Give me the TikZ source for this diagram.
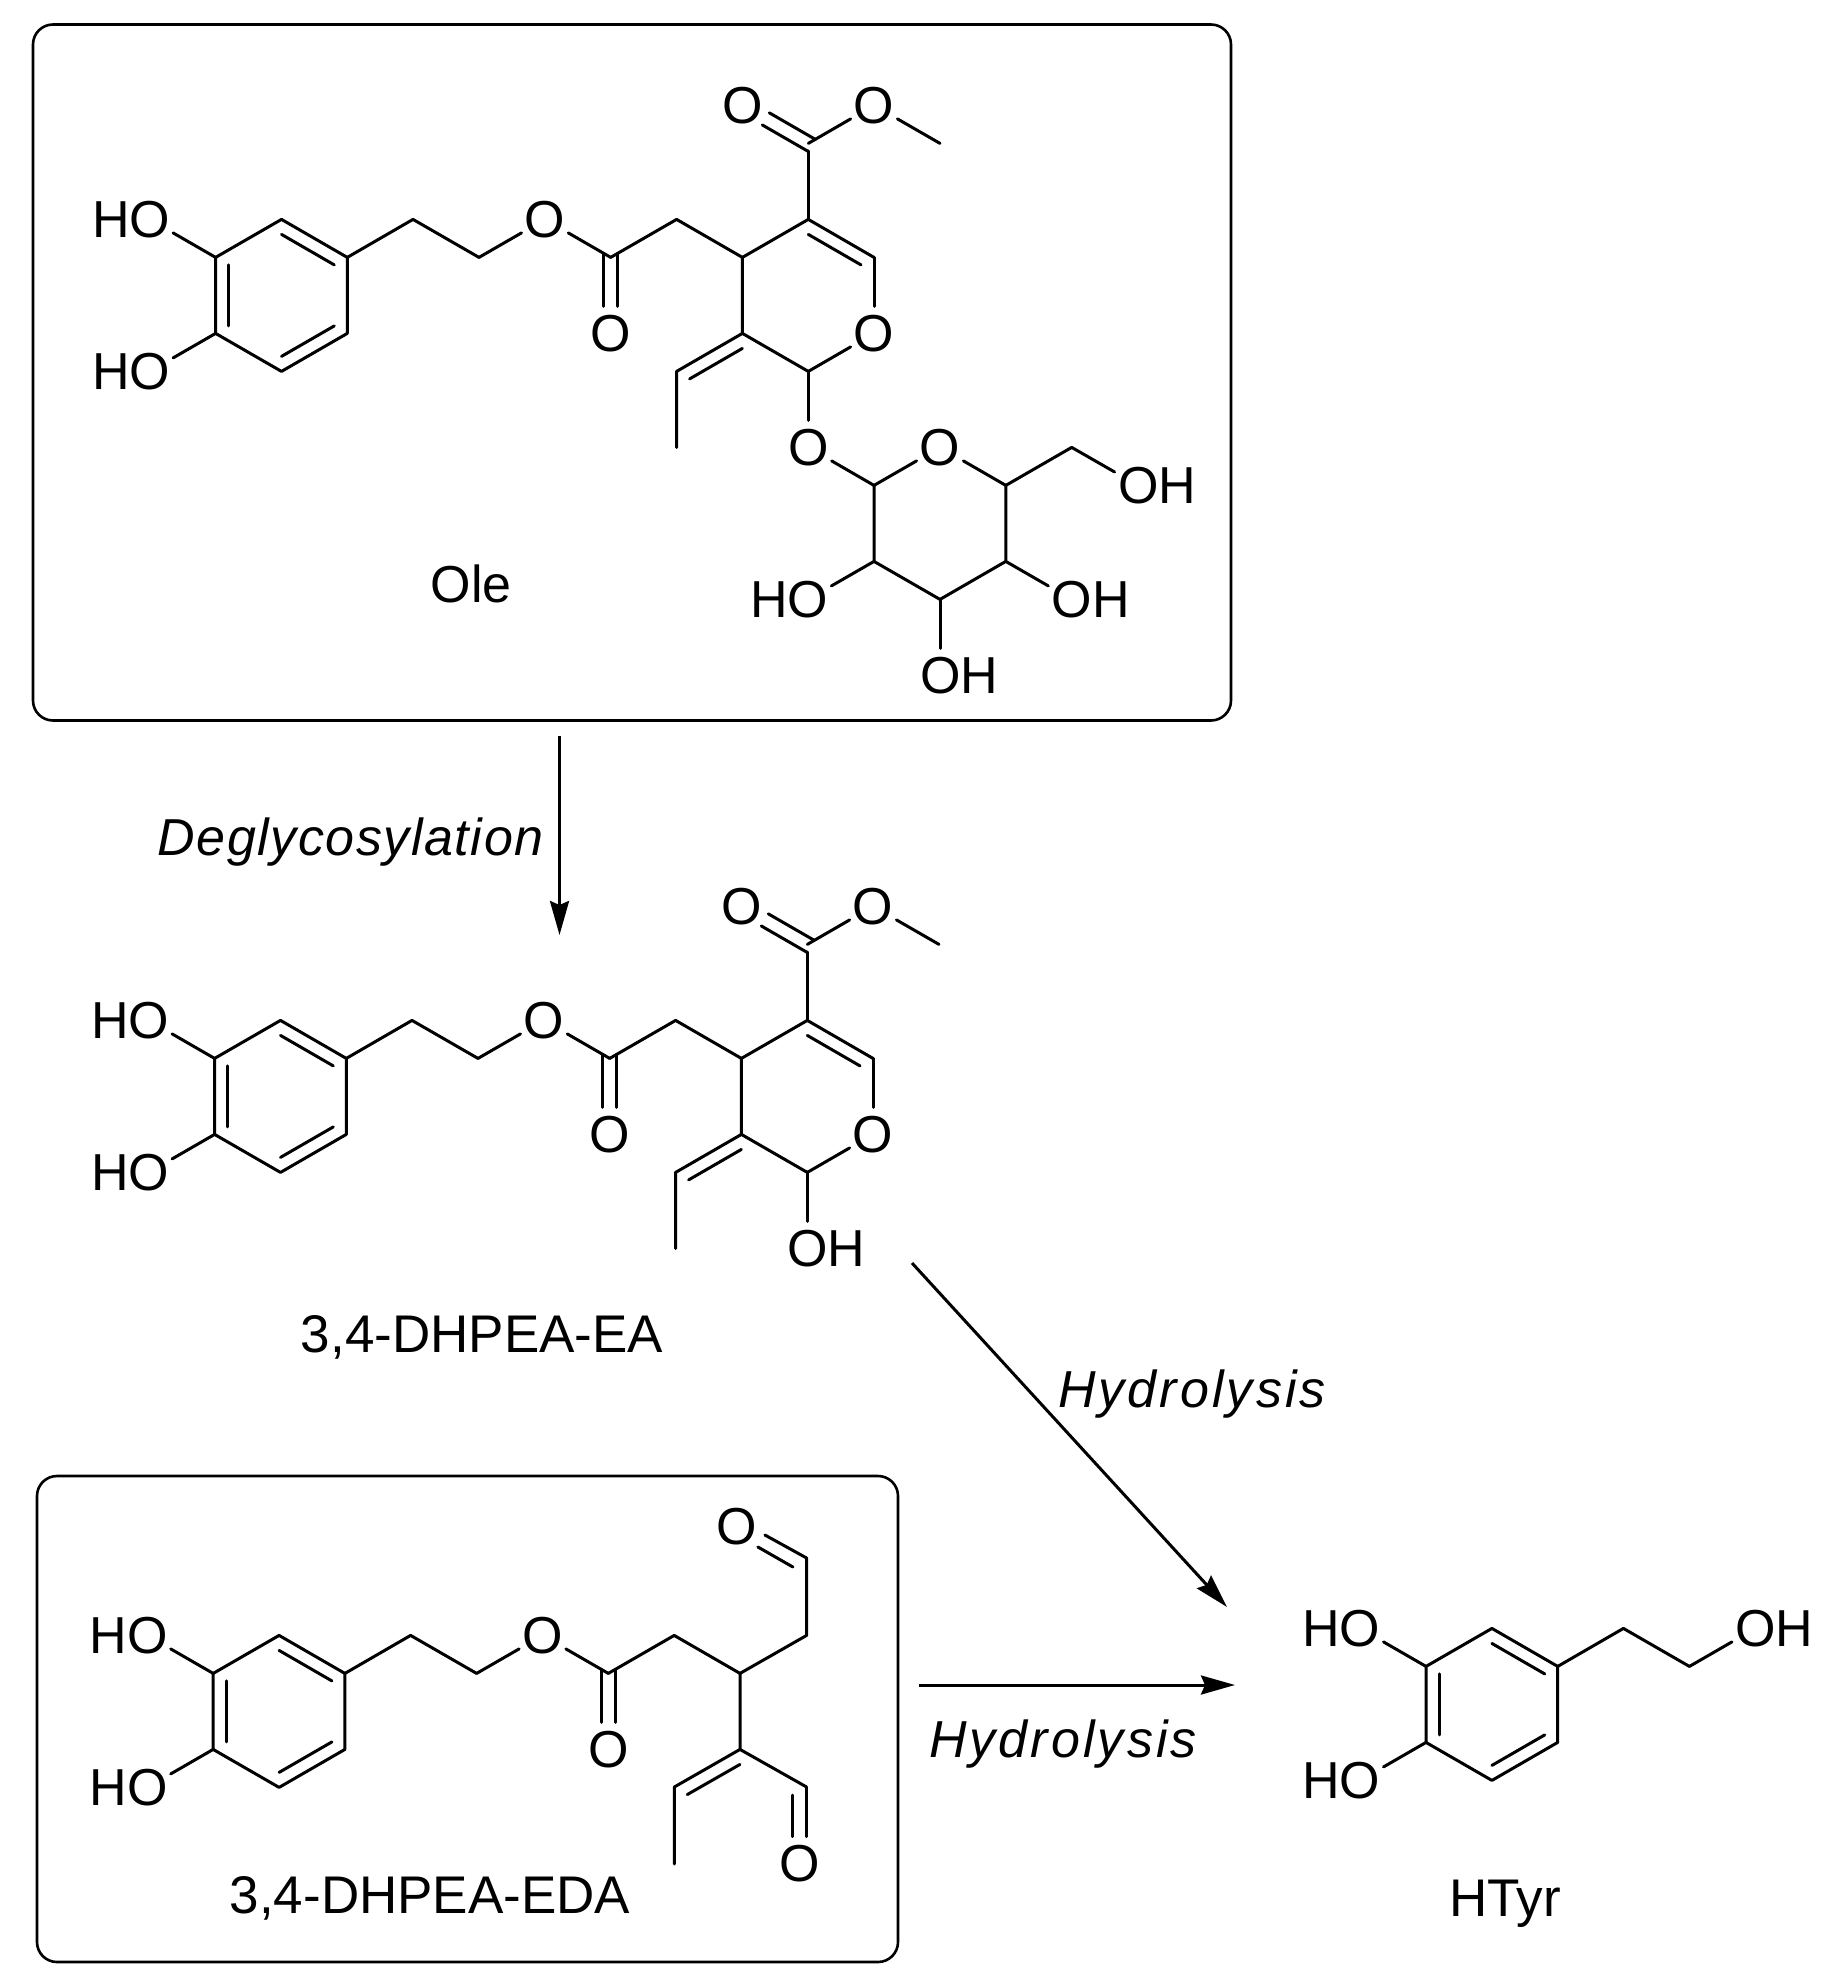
\documentclass[tikz,border=0pt]{standalone}
\usepackage{fontspec}
\setmainfont{Liberation Sans}
\usetikzlibrary{calc,arrows.meta}
\tikzset{
  x=1pt,y=-1pt,
  bond/.style={line width=3pt,line cap=round,line join=round,black},
  toO/.style={bond,shorten >=27pt},
  atomtxt/.style={inner sep=0pt,font=\fontsize{52}{52}\selectfont},
  lbl/.style={inner sep=0pt,font=\fontsize{53}{53}\selectfont},
  itl/.style={inner sep=0pt,font=\fontsize{52}{52}\selectfont\itshape\addfontfeature{LetterSpace=#1}},
  frame/.style={line width=2.6pt,rounded corners=20pt,black},
  rxn/.style={line width=3pt,black,-{Stealth[length=34pt,width=19pt,inset=4pt]}}
}
% double bond partner on the page-left of a->b, set in and offset
\newcommand\ib[2]{\draw[bond] ($(#1)!7.5pt!(#2)!13pt!90:(#2)$) -- ($(#2)!7.5pt!(#1)!13pt!-90:(#1)$);}
% carbonyl C=O, two lines either side of the axis, stopping short of O
\newcommand\co[2]{%
  \draw[bond] ($(#1)!-4pt!(#2)!7pt!90:(#2)$) -- ($(#2)!27pt!(#1)!7pt!-90:(#1)$);
  \draw[bond] ($(#1)!-4pt!(#2)!7pt!-90:(#2)$) -- ($(#2)!27pt!(#1)!7pt!90:(#1)$);}
% O centre sits on the lattice point; H to the left or right
\newcommand\HO[2]{\coordinate (#1) at (#2); \node[atomtxt,anchor=east,xshift=20.5pt] (#1l) at (#1) {HO};}
\newcommand\OH[2]{\coordinate (#1) at (#2); \node[atomtxt,anchor=west,xshift=-20pt] (#1l) at (#1) {OH};}
\newcommand\Ox[2]{\coordinate (#1) at (#2); \node[atomtxt] (#1l) at (#1) {O};}
\newcommand\catechol[1]{%
  \coordinate (#1a) at (281.5,219.4);
  \coordinate (#1b) at (347.3,257.4);
  \coordinate (#1c) at (347.3,333.4);
  \coordinate (#1d) at (281.5,371.4);
  \coordinate (#1e) at (215.6,333.4);
  \coordinate (#1f) at (215.6,257.4);
  \HO{#1h}{149.7,219.4}
  \HO{#1i}{149.7,371.4}
  \draw[bond] (#1a)--(#1b)--(#1c)--(#1d)--(#1e)--(#1f)--cycle;
  \ib{#1b}{#1a}\ib{#1d}{#1c}\ib{#1f}{#1e}
  \draw[toO] (#1f)--(#1h);
  \draw[toO] (#1e)--(#1i);
}
\newcommand\ester[1]{%
  \coordinate (#1p) at (413,219.4);
  \coordinate (#1q) at (479,257.4);
  \Ox{#1r}{544.9,219.4}
  \coordinate (#1s) at (610.7,257.4);
  \Ox{#1t}{610.7,333.4}
  \coordinate (#1u) at (676.6,219.4);
  \coordinate (#1v) at (742.4,257.4);
  \draw[bond] (#1b)--(#1p)--(#1q);
  \draw[toO] (#1q)--(#1r);
  \draw[toO] (#1s)--(#1r);
  \co{#1s}{#1t}
  \draw[bond] (#1s)--(#1u)--(#1v);
}
\newcommand\pyran[1]{%
  \coordinate (#1w) at (808.3,219.4);
  \coordinate (#1x) at (874,257.4);
  \Ox{#1y}{874,333.4}
  \coordinate (#1z) at (808.3,371.4);
  \coordinate (#1C) at (742.4,333.4);
  \coordinate (#1E) at (676.6,371.4);
  \coordinate (#1M) at (676.6,447.4);
  \coordinate (#1K) at (808.3,143.4);
  \coordinate (#1J) at (808.3,151);
  \Ox{#1L}{742.4,105.4}
  \Ox{#1N}{874,105.4}
  \coordinate (#1Q) at (940,143.4);
  \draw[bond] (#1v)--(#1w)--(#1x);
  \ib{#1x}{#1w}
  \draw[toO] (#1x)--(#1y);
  \draw[toO] (#1z)--(#1y);
  \draw[bond] (#1z)--(#1C)--(#1v);
  \draw[bond] (#1C)--(#1E)--(#1M);
  \ib{#1C}{#1E}
  \draw[bond] (#1w)--(#1J);
  \co{#1K}{#1L}
  \draw[toO] (#1K)--(#1N);
  \draw[toO] (#1Q)--(#1N);
}
\begin{document}
\begin{tikzpicture}
\useasboundingbox (0,0) rectangle (1840,1988);
\fill[white] (0,0) rectangle (1840,1988);
% --- Ole ---
\node[frame,draw,minimum width=1198pt,minimum height=696pt,inner sep=0pt] (olebox) at (632,372.5) {};
\begin{scope}
  \catechol{a}\ester{a}\pyran{a}
  \Ox{so}{808.3,447.4}
  \Ox{sr}{940,447.4}
  \coordinate (s1) at (874,485.4);
  \coordinate (s2) at (1005.8,485.4);
  \coordinate (s3) at (1071.7,447.4);
  \OH{s4}{1138,485.4}
  \coordinate (s5) at (1005.8,561.4);
  \coordinate (s6) at (940,599.4);
  \coordinate (s7) at (874,561.4);
  \HO{s8}{808,599.4}
  \OH{s9}{1071.7,599.4}
  \OH{s0}{940,675.4}
  \draw[toO] (az)--(so);
  \draw[toO] (s1)--(so);
  \draw[toO] (s1)--(sr);
  \draw[toO] (s2)--(sr);
  \draw[bond] (s2)--(s3);
  \draw[toO] (s3)--(s4);
  \draw[bond] (s2)--(s5)--(s6)--(s7)--(s1);
  \draw[toO] (s7)--(s8);
  \draw[toO] (s5)--(s9);
  \draw[toO] (s6)--(s0);
\end{scope}
\node[atomtxt] (ole) at (471,584) {Ole};
% --- 3,4-DHPEA-EA ---
\begin{scope}[shift={(-1,801)}]
  \catechol{b}\ester{b}\pyran{b}
  \OH{bo}{808.3,447.4}
  \draw[toO] (bz)--(bo);
\end{scope}
\node[lbl] (ea) at (482,1337) {3,4-DHPEA-EA};
% --- 3,4-DHPEA-EDA ---
\node[frame,draw,minimum width=861pt,minimum height=486pt,inner sep=0pt] (edabox) at (467.5,1719) {};
\begin{scope}[shift={(-2.4,1416)}]
  \catechol{c}\ester{c}
  \coordinate (cA) at (809,219.4);
  \coordinate (cB) at (809,142);
  \coordinate (cG) at (742.4,333.4);
  \coordinate (cH) at (676.7,371);
  \coordinate (cJ) at (676.7,448);
  \coordinate (cP) at (809,371);
  \draw[bond] (cv)--(cA)--(cB);
  \draw[bond] (cv)--(cG)--(cH)--(cJ);
  \draw[bond] (cG)--(cP);
  \ib{cG}{cH}
\end{scope}
\node[atomtxt] (cO1) at (737,1527) {O};
\node[atomtxt] (cO2) at (800,1864) {O};
\coordinate (cD1) at ($(cB)+(-41.7,-23)$);
\coordinate (cD2) at ($(cB)+(-13.7,9)$);
\coordinate (cD3) at ($(cB)+(-48.7,-11)$);
\draw[bond] (cB)--(cD1);
\draw[bond] (cD2)--(cD3);
\coordinate (cF1) at ($(cP)+(0,49.7)$);
\coordinate (cF2) at ($(cP)+(-14,8)$);
\coordinate (cF3) at ($(cP)+(-14,49.7)$);
\draw[bond] (cP)--(cF1);
\draw[bond] (cF2)--(cF3);
\node[lbl] (eda) at (430,1898) {3,4-DHPEA-EDA};
% --- HTyr ---
\begin{scope}[shift={(1210.4,1409)}]
  \catechol{d}
  \coordinate (dp) at (413,219.4);
  \coordinate (dq) at (479,257.4);
  \OH{dr}{544.9,219.4}
  \draw[bond] (db)--(dp)--(dq);
  \draw[toO] (dq)--(dr);
\end{scope}
\node[lbl] (htyr) at (1505,1904) {HTyr};
% --- reactions ---
\coordinate (r1a) at (559.5,736);
\coordinate (r1b) at (559.5,935);
\draw[rxn] (r1a)--(r1b);
\node[itl=3] (deg) at (350.5,842) {Deglycosylation};
\coordinate (r2a) at (912,1263);
\coordinate (r2b) at (1227,1607);
\draw[rxn] (r2a)--(r2b);
\node[itl=6] (hy1) at (1192,1394) {Hydrolysis};
\coordinate (r3a) at (919,1685);
\coordinate (r3b) at (1235,1685);
\draw[rxn] (r3a)--(r3b);
\node[itl=6] (hy2) at (1063,1744) {Hydrolysis};
\end{tikzpicture}
\end{document}
